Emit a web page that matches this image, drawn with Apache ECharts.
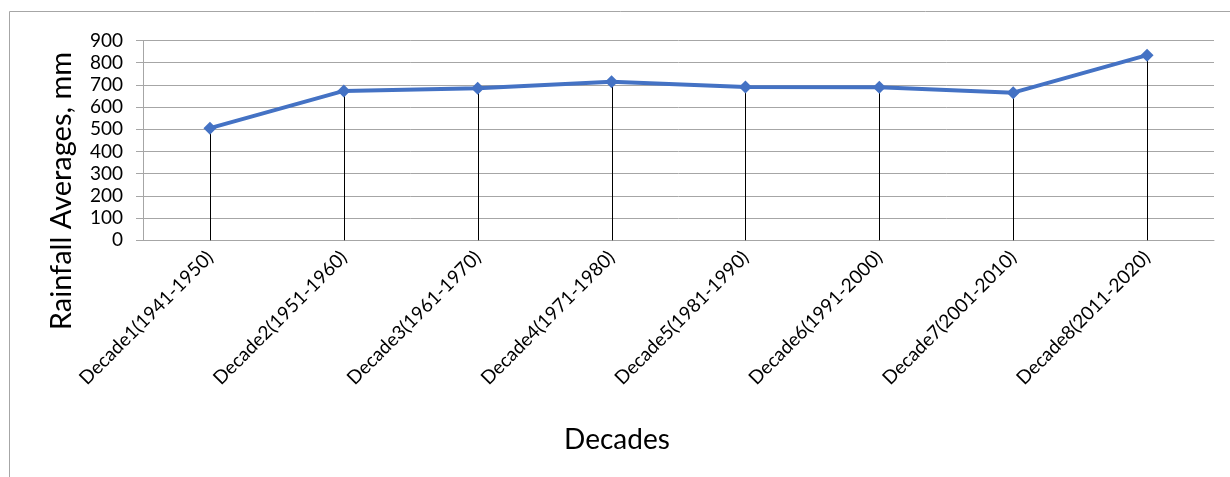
<!DOCTYPE html>
<html>
<head>
<meta charset="utf-8">
<script src="https://cdn.jsdelivr.net/npm/echarts@6/dist/echarts.min.js"></script>
<style>
  html, body { margin: 0; padding: 0; background: #fff; }
  #chart { width: 1230px; height: 477px; }
</style>
</head>
<body>
<div id="chart"></div>
<script>
// Decade labels along the category axis
const decades = [
  'Decade1(1941-1950)', 'Decade2(1951-1960)', 'Decade3(1961-1970)', 'Decade4(1971-1980)',
  'Decade5(1981-1990)', 'Decade6(1991-2000)', 'Decade7(2001-2010)', 'Decade8(2011-2020)'
];
// Average rainfall per decade, mm
const rainfallAvg = [505, 673, 685, 714, 691, 689, 665, 834];
// Value axis range
const yMin = 0;
const yMax = 900;
const yStep = 100;

const FONT = 'Lato, "Open Sans", sans-serif';
const GRID_GREY = '#a6a6a6';

const chart = echarts.init(document.getElementById('chart'), null, { renderer: 'canvas' });

// Vertical drop line from a data point down to the value-axis baseline
function renderDropLine(params, api) {
  const top = api.coord([api.value(0), api.value(1)]);
  const base = api.coord([api.value(0), yMin]);
  const x = Math.round(top[0]) + 0.5;
  return {
    type: 'line',
    shape: { x1: x, y1: top[1], x2: x, y2: base[1] },
    style: { stroke: '#000', lineWidth: 1 },
    silent: true
  };
}

chart.setOption({
  animation: false,
  backgroundColor: '#ffffff',
  grid: { left: 143, right: 16, top: 40.5, bottom: 236.7, containLabel: false },
  graphic: [
    {
      type: 'rect',
      shape: { x: 9.5, y: 11.5, width: 1300, height: 600 },
      style: { fill: 'none', stroke: GRID_GREY, lineWidth: 1 },
      silent: true, z: -10
    },
    {
      type: 'text',
      x: 62, y: 191,
      rotation: Math.PI / 2,
      style: {
        text: 'Rainfall Averages, mm',
        font: '29px ' + FONT,
        fill: '#000',
        align: 'center',
        verticalAlign: 'middle'
      }
    },
    {
      type: 'text',
      x: 617, y: 440,
      style: {
        text: 'Decades',
        font: '28px ' + FONT,
        fill: '#000',
        align: 'center',
        verticalAlign: 'middle'
      }
    }
  ],
  xAxis: {
    type: 'category',
    data: decades,
    boundaryGap: true,
    axisLine: { show: true, lineStyle: { color: GRID_GREY, width: 1 } },
    axisTick: { show: false },
    axisLabel: {
      rotate: 45,
      interval: 0,
      margin: 14,
      color: '#000',
      fontFamily: FONT,
      fontSize: 19
    },
    splitLine: { show: false }
  },
  yAxis: {
    type: 'value',
    min: yMin,
    max: yMax,
    interval: yStep,
    axisLine: { show: true, lineStyle: { color: GRID_GREY, width: 1 } },
    axisTick: { show: true, inside: false, length: 7, lineStyle: { color: GRID_GREY } },
    axisLabel: { margin: 20, color: '#000', fontFamily: FONT, fontSize: 19 },
    splitLine: { show: true, lineStyle: { color: GRID_GREY, width: 1 } }
  },
  series: [
    {
      type: 'custom',
      data: rainfallAvg.map((v, i) => [i, v]),
      renderItem: renderDropLine,
      encode: { x: 0, y: 1 },
      silent: true,
      z: 2
    },
    {
      type: 'line',
      data: rainfallAvg,
      symbol: 'diamond',
      symbolSize: 13,
      lineStyle: { color: '#4472C4', width: 4 },
      itemStyle: { color: '#4472C4' },
      z: 5
    }
  ]
});
</script>
</body>
</html>
